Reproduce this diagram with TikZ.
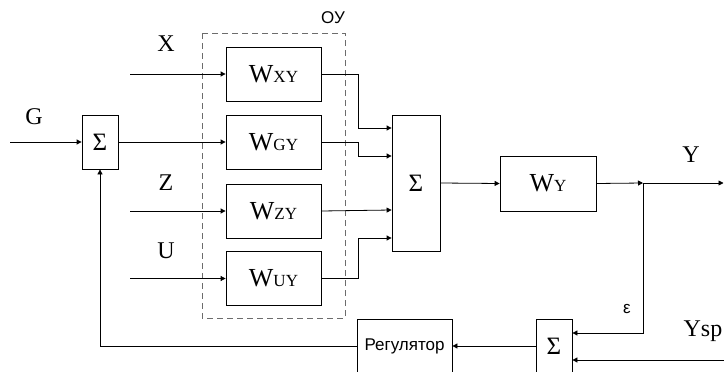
\documentclass[tikz,border=0pt]{standalone}
\usepackage{fontspec}
\setmainfont{Liberation Serif}
\newfontfamily\sansf{Liberation Sans}
\usetikzlibrary{arrows.meta}
\tikzset{
  blk/.style={draw, line width=0.8pt, inner sep=0pt, minimum width=95pt, minimum height=54pt},
  sumbox/.style={draw, line width=0.8pt, inner sep=0pt, minimum width=36pt, minimum height=54pt, font=\fontsize{25}{25}\selectfont},
  lbl/.style={inner sep=0pt, font=\fontsize{24}{24}\selectfont},
  slbl/.style={inner sep=0pt, font=\sansf\fontsize{17}{17}\selectfont},
  con/.style={line width=0.8pt, -{Triangle[length=5pt,width=5pt]}},
}
\newcommand{\wlab}[1]{{\fontsize{26}{26}\selectfont W}{\fontsize{17}{17}\selectfont #1}}
\begin{document}
\begin{tikzpicture}[x=1pt,y=-1pt]
\useasboundingbox (0,0) rectangle (724,372);
\clip (0,0) rectangle (724,372);
% dashed OY region
\draw[dashed, gray!85!black, line width=0.9pt, dash pattern=on 6pt off 4pt] (202,33) rectangle (345,318);
\node[slbl] (oy) at (333,18) {ОУ};
% blocks
\node[sumbox] (sum1) at (100,142) {Σ};
\node[blk] (wxy) at (273.5,74) {\wlab{XY}};
\node[blk] (wgy) at (273.5,142) {\wlab{GY}};
\node[blk] (wzy) at (273.5,211) {\wlab{ZY}};
\node[blk] (wuy) at (273.5,278.5) {\wlab{UY}};
\node[sumbox, minimum width=48pt, minimum height=136pt] (sum2) at (416,183) {Σ};
\node[blk, minimum width=96pt, minimum height=55pt] (wy) at (548,183.5) {\wlab{Y}};
\node[blk] (reg) at (404.5,346) {\sansf\fontsize{17}{17}\selectfont Регулятор};
\node[sumbox] (sum3) at (554,346) {Σ};
% labels
\node[lbl] (lx) at (166,44) {X};
\node[lbl] (lg) at (34,117) {G};
\node[lbl] (lz) at (166,183) {Z};
\node[lbl] (lu) at (166,251) {U};
\node[lbl] (ly) at (691,155) {Y};
\node[lbl] (lysp) at (703,331) {Ysp};
\node[slbl] (leps) at (627,309) {ε};
% free ends
\coordinate (gin) at (10,142);
\coordinate (xin) at (130,74);
\coordinate (zin) at (130,211);
\coordinate (uin) at (130,278.5);
\coordinate (j) at (643,183);
\coordinate (yout) at (723.5,183);
\coordinate (yspin) at (724,360);
% connectors
\draw[con] (gin) -- (sum1.west);
\draw[con] (sum1.east) -- (wgy.west);
\draw[con] (xin) -- (wxy.west);
\draw[con] (zin) -- (wzy.west);
\draw[con] (uin) -- (wuy.west);
\draw[con] (wxy.east) -- ++(37,0) |- ([yshift=55pt]sum2.west);
\draw[con] (wgy.east) -- ++(37,0) |- ([yshift=27pt]sum2.west);
\draw[con] (wzy.east) -- ([yshift=-27pt]sum2.west);
\draw[con] (wuy.east) -- ++(37,0) |- ([yshift=-55pt]sum2.west);
\draw[con] (sum2.east) -- (wy.west);
\draw[con] (wy.east) -- (j);
\draw[con] (j) -- (yout);
\draw[con] (j) |- ([yshift=13pt]sum3.east);
\draw[con] (yspin) -- ([yshift=-14pt]sum3.east);
\draw[con] (sum3.west) -- (reg.east);
\draw[con] (reg.west) -| (sum1.south);
\end{tikzpicture}
\end{document}
